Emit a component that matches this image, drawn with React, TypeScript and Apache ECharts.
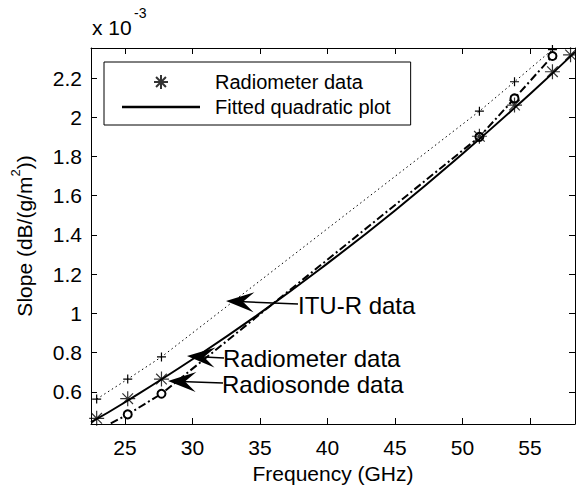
import React, { useEffect, useRef } from "react";
import * as echarts from "echarts";

// Frequencies (GHz) and slopes (x 10^-3 dB/(g/m^2))
const radFreq = [22.9, 25.2, 27.7, 51.25, 53.85, 56.66, 58.0];
const radSlope = [0.465, 0.565, 0.665, 1.903, 2.062, 2.232, 2.318];

const ituFreq = [22.9, 25.2, 27.7, 51.25, 53.85, 56.66];
const ituSlope = [0.563, 0.665, 0.778, 2.031, 2.181, 2.345];

const sondeFreq = [22.9, 25.2, 27.7, 51.25, 53.85, 56.66];
const sondeSlope = [0.4, 0.485, 0.59, 1.9, 2.096, 2.312];

// Fitted quadratic curve
const fitFreq = [22.48, 25, 30, 35, 40, 45, 50, 55, 58.33];
const fitSlope = [0.445, 0.547, 0.766, 1.001, 1.255, 1.525, 1.814, 2.119, 2.332];

const xTicks = [25, 30, 35, 40, 45, 50, 55];
const yTicks = [0.6, 0.8, 1, 1.2, 1.4, 1.6, 1.8, 2, 2.2];

const FONT = "'Liberation Sans', Arial, Helvetica, sans-serif";
const STAR =
  "path://M10,0L10,20M0,10L20,10M2.93,2.93L17.07,17.07M2.93,17.07L17.07,2.93";
const PLUS = "path://M10,0L10,20M0,10L20,10";

function zip(a: number[], b: number[]) {
  return a.map((v, i) => [v, b[i]]);
}

function arrow(tx: number, ty: number, ex: number, ey: number) {
  const a = Math.atan2(ey - ty, ex - tx);
  const ux = Math.cos(a), uy = Math.sin(a);
  const px = -uy, py = ux;
  const L = 28, W = 10, N = 17;
  return [
    {
      type: "line",
      shape: { x1: tx + ux * 12, y1: ty + uy * 12, x2: ex, y2: ey },
      style: { stroke: "#000", lineWidth: 1.5 },
      z: 20,
    },
    {
      type: "polygon",
      shape: {
        points: [
          [tx, ty],
          [tx + ux * L + px * W, ty + uy * L + py * W],
          [tx + ux * N, ty + uy * N],
          [tx + ux * L - px * W, ty + uy * L - py * W],
        ],
      },
      style: { fill: "#000" },
      z: 20,
    },
  ];
}

function label(text: string, x: number, y: number) {
  return {
    type: "text",
    x,
    y,
    style: {
      text,
      fontSize: 24,
      fontFamily: FONT,
      fill: "#000",
      verticalAlign: "middle",
      align: "left",
    },
    z: 20,
  };
}

export default function App() {
  const ref = useRef<HTMLDivElement>(null);

  useEffect(() => {
    document.body.style.margin = "0";
    if (!ref.current) return;
    const chart = echarts.init(ref.current, undefined, { renderer: "svg" });

    const axisCommon = {
      type: "value",
      axisLine: { show: true, lineStyle: { color: "#000", width: 1 } },
      splitLine: { show: false },
    };

    const option: any = {
      animation: false,
      backgroundColor: "#fff",
      grid: { left: 91, right: 1, top: 48, bottom: 66 },
      xAxis: [
        {
          ...axisCommon,
          min: 22.48,
          max: 58.33,
          position: "bottom",
          axisTick: { show: true, inside: true, length: 6, customValues: xTicks, lineStyle: { color: "#000" } },
          axisLabel: { customValues: xTicks, fontSize: 21, color: "#000", margin: 13, fontFamily: FONT },
          name: "Frequency (GHz)",
          nameLocation: "middle",
          nameGap: 32,
          nameTextStyle: { fontSize: 21, color: "#000", fontFamily: FONT },
        },
        {
          ...axisCommon,
          min: 22.48,
          max: 58.33,
          position: "top",
          axisTick: { show: true, inside: true, length: 6, customValues: xTicks, lineStyle: { color: "#000" } },
          axisLabel: { show: false },
        },
      ],
      yAxis: [
        {
          ...axisCommon,
          min: 0.436,
          max: 2.353,
          position: "left",
          axisTick: { show: true, inside: true, length: 6, customValues: yTicks, lineStyle: { color: "#000" } },
          axisLabel: { customValues: yTicks, fontSize: 21, color: "#000", margin: 9, fontFamily: FONT },
          name: "{a|Slope (dB/(g/m}{s|2}{a|))}",
          nameLocation: "middle",
          nameRotate: 90,
          nameGap: 56,
          nameTextStyle: {
            fontSize: 21,
            color: "#000",
            fontFamily: FONT,
            rich: {
              a: { fontSize: 21, fontFamily: FONT, color: "#000", lineHeight: 26, verticalAlign: "bottom" },
              s: { fontSize: 13, fontFamily: FONT, color: "#000", lineHeight: 26, verticalAlign: "top" },
            },
          },
        },
        {
          ...axisCommon,
          min: 0.436,
          max: 2.353,
          position: "right",
          axisTick: { show: true, inside: true, length: 6, customValues: yTicks, lineStyle: { color: "#000" } },
          axisLabel: { show: false },
        },
      ],
      legend: {
        left: 104,
        top: 62,
        orient: "vertical",
        backgroundColor: "#fff",
        borderColor: "#000",
        borderWidth: 1,
        padding: [10, 20, 8, 18],
        itemWidth: 78,
        itemHeight: 14,
        itemGap: 5,
        textStyle: { fontSize: 20, color: "#000", fontFamily: FONT, lineHeight: 20, padding: [0, 0, 0, 10] },
        data: [
          { name: "Radiometer data", icon: STAR },
          { name: "Fitted quadratic plot", icon: "path://M0,0L78,0L78,2.5L0,2.5Z" },
        ],
      },
      graphic: [
        {
          type: "text",
          left: 92,
          top: 17,
          style: { text: "x 10", fontSize: 21, fontFamily: FONT, fill: "#000" },
        },
        {
          type: "text",
          left: 134,
          top: 6,
          style: { text: "-3", fontSize: 14, fontFamily: FONT, fill: "#000" },
        },
        ...arrow(226, 301, 298, 304),
        label("ITU-R data", 298, 305),
        ...arrow(187, 356, 224, 358),
        label("Radiometer data", 223, 358),
        ...arrow(168, 381, 223, 383),
        label("Radiosonde data", 222, 384),
      ],
      series: [
        {
          name: "Fitted quadratic plot",
          type: "line",
          data: zip(fitFreq, fitSlope),
          smooth: true,
          showSymbol: false,
          color: "#000",
          itemStyle: { color: "#000" },
          lineStyle: { color: "#000", width: 2 },
          z: 3,
        },
        {
          name: "Radiometer data",
          type: "scatter",
          data: zip(radFreq, radSlope),
          symbol: STAR,
          symbolSize: 15,
          itemStyle: { color: "transparent", borderColor: "#000", borderWidth: 1.2 },
          z: 4,
        },
        {
          name: "ITU-R data",
          type: "line",
          data: zip(ituFreq, ituSlope),
          symbol: PLUS,
          symbolSize: 9,
          itemStyle: { color: "transparent", borderColor: "#000", borderWidth: 1.2 },
          lineStyle: { color: "#000", width: 1, type: [1.5, 3] },
          z: 2,
        },
        {
          name: "Radiosonde data",
          type: "line",
          data: zip(sondeFreq, sondeSlope),
          symbol: "emptyCircle",
          symbolSize: 8,
          color: "#000",
          itemStyle: { color: "#000", borderColor: "#000", borderWidth: 1.8 },
          lineStyle: { color: "#000", width: 2, type: [8, 3, 2, 3] },
          z: 2,
        },
      ],
    };

    chart.setOption(option);
    return () => chart.dispose();
  }, []);

  return <div ref={ref} style={{ width: 576, height: 490 }} />;
}
